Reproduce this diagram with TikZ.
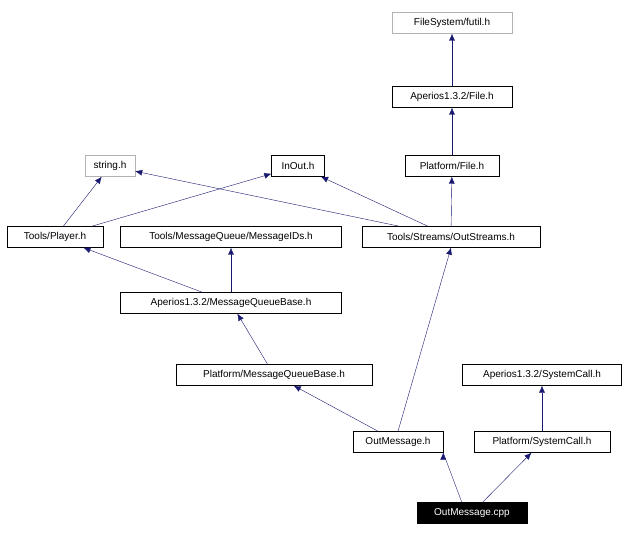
\documentclass[tikz,border=0pt]{standalone}
\usepackage{fontspec}
\setmainfont{Liberation Sans}
\usetikzlibrary{arrows.meta,positioning}
\definecolor{edgeblue}{HTML}{191970}
\begin{document}
\begin{tikzpicture}[x=1pt,y=-1pt]
\tikzstyle{every node}+=[inner sep=0pt]
\tikzset{file/.style={draw=black,rectangle,minimum height=21pt,font=\fontsize{10}{12}\selectfont},
  sys/.style={file,draw=gray!60},
  main/.style={file,fill=black,text=white},
  inc/.style={draw=edgeblue,-{Latex[length=7pt,width=6pt]},shorten <=0pt}}
\useasboundingbox (0,0) rectangle (627,540);
\node [sys,minimum width=120pt] (futil) at (452,23) {FileSystem/futil.h};
\node [file,minimum width=120pt] (aFile) at (452,97) {Aperios1.3.2/File.h};
\node [file,minimum width=94pt] (pFile) at (452,166) {Platform/File.h};
\node [sys,minimum width=50pt] (string) at (110,166) {string.h};
\node [file,minimum width=53pt] (inout) at (298,166) {InOut.h};
\node [file,minimum width=96pt] (player) at (55,237) {Tools/Player.h};
\node [file,minimum width=221pt] (msgids) at (231,237) {Tools/MessageQueue/MessageIDs.h};
\node [file,minimum width=178pt] (outstr) at (451,237) {Tools/Streams/OutStreams.h};
\node [file,minimum width=221pt] (aMQB) at (231,303) {Aperios1.3.2/MessageQueueBase.h};
\node [file,minimum width=196pt] (pMQB) at (274,375) {Platform/MessageQueueBase.h};
\node [file,minimum width=159pt] (aSys) at (542,375) {Aperios1.3.2/SystemCall.h};
\node [file,minimum width=90pt] (outmsg) at (398,442) {OutMessage.h};
\node [file,minimum width=136pt] (pSys) at (542,442) {Platform/SystemCall.h};
\node [main,minimum width=110pt] (cpp) at (472,513) {OutMessage.cpp};
% includes
\draw [inc] (cpp.north west) ++(45,0) -- (outmsg.south east) ++(0,0);
\draw [inc] (cpp) -- (pSys);
\draw [inc] (outmsg) -- (pMQB);
\draw [inc] (outmsg.north) -- (outstr.south);
\draw [inc] (pSys) -- (aSys);
\draw [inc] (pMQB) -- (aMQB);
\draw [inc] (aMQB) -- (player);
\draw [inc] (aMQB) -- (msgids);
\draw [inc] (player) -- (string);
\draw [inc] (player) -- (inout);
\draw [inc] (outstr) -- (string);
\draw [inc] (outstr) -- (inout);
\draw [inc] (outstr) -- (pFile);
\draw [inc] (pFile) -- (aFile);
\draw [inc] (aFile) -- (futil);
\end{tikzpicture}
\end{document}
